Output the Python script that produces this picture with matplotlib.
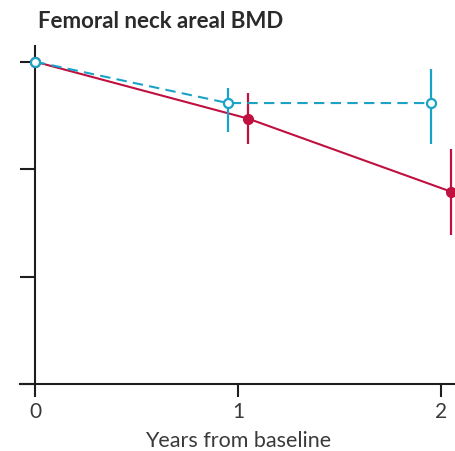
import matplotlib
matplotlib.use('Agg')
import matplotlib.pyplot as plt

# data (y in arbitrary units, ticks every 1)
years_red = [0, 1.05, 2.05]
bmd_red = [0, -0.53, -1.21]
err_red = [0, 0.24, 0.40]
years_blue = [0, 0.95, 1.95]
bmd_blue = [0, -0.385, -0.385]
err_blue_lo = [0, 0.27, 0.38]
err_blue_hi = [0, 0.14, 0.32]
xticks = [0, 1, 2]
yticks = [0, -1, -2, -3]

C_RED = '#C0103F'; C_BLUE = '#1AA3C8'; C_AX = '#1E1E1E'; C_TXT = '#3A3A3A'
plt.rcParams['font.family'] = ['Lato', 'DejaVu Sans']

fig = plt.figure(figsize=(4.56, 4.52), dpi=100)
ax = fig.add_axes([20/456, 67/452, 436/456, 338/452])

ax.errorbar(years_red, bmd_red, yerr=err_red, color=C_RED, lw=1.5, elinewidth=1.6,
            marker='o', ms=7, mfc=C_RED, mec=C_RED, capsize=0, zorder=3)
ax.errorbar(years_blue, bmd_blue, yerr=[err_blue_lo, err_blue_hi], color=C_BLUE, lw=1.5,
            elinewidth=1.6, ls=(0, (5, 3)), marker='o', ms=6.5, mfc='white', mec=C_BLUE,
            mew=1.6, capsize=0, zorder=4)

ax.set_xlim(-0.074, 2.074)
ax.set_ylim(-3, 0.146)
ax.spines['left'].set_position(('data', 0))
for sp in ['top', 'right']:
    ax.spines[sp].set_visible(False)
for sp in ['left', 'bottom']:
    ax.spines[sp].set_linewidth(1.5); ax.spines[sp].set_color(C_AX)
ax.set_yticks(yticks); ax.set_yticklabels([])
ax.set_xticks(xticks); ax.set_xticklabels([str(t) for t in xticks])
ax.tick_params(axis='y', direction='out', length=11, width=1.5, color=C_AX)
ax.tick_params(axis='x', direction='out', length=9.5, width=1.5, color=C_AX,
               labelsize=15, labelcolor=C_TXT, pad=3)
ax.set_xlabel('Years from baseline', fontsize=15.5, color=C_TXT, labelpad=6)
fig.text(38/456, 1 - 22/452, 'Femoral neck areal BMD', fontsize=16, fontweight='bold',
         color='#2A2A2A', ha='left', va='center')

fig.savefig('out.png', dpi=100)
